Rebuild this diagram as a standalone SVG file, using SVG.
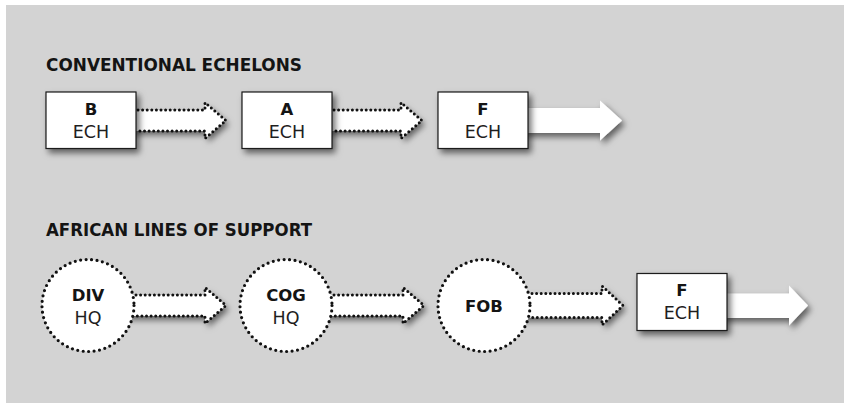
<svg xmlns="http://www.w3.org/2000/svg" width="844" height="403" viewBox="0 0 844 403">
<defs>
<filter id="sh" x="-20%" y="-20%" width="150%" height="160%">
<feDropShadow dx="3" dy="4" stdDeviation="3" flood-color="#000" flood-opacity="0.55"/>
</filter>
<style>
.title{font-family:"DejaVu Sans","Liberation Sans",sans-serif;font-weight:700;font-size:17.5px;fill:#141414}
.b{font-family:"DejaVu Sans","Liberation Sans",sans-serif;font-weight:700;font-size:16.5px;fill:#141414;text-anchor:middle}
.r{font-family:"DejaVu Sans","Liberation Sans",sans-serif;font-weight:400;font-size:17.5px;fill:#1e1e1e;text-anchor:middle}
.box{fill:#fff;stroke:#1a1a1a;stroke-width:1.2;filter:url(#sh)}
.circ{fill:#fff;stroke:#111;stroke-width:3.2;stroke-dasharray:0 5.5;stroke-linecap:round}
.arr{fill:#fff;filter:url(#sh)}
.dot{fill:none;stroke:#111;stroke-width:3;stroke-dasharray:0 4.6;stroke-linecap:round;stroke-linejoin:round}
</style>
</defs>
<rect x="6" y="5" width="838" height="398" fill="#d3d3d3"/>
<text class="title" x="46" y="70.5" textLength="256" lengthAdjust="spacingAndGlyphs">CONVENTIONAL ECHELONS</text>
<text class="title" x="46" y="235.5" textLength="266" lengthAdjust="spacingAndGlyphs">AFRICAN LINES OF SUPPORT</text>
<g id="connectors">
<path class="arr" d="M130 110 H205 V102.5 L226 120.5 L205 138.5 V131 H130 Z"/>
<path class="dot" d="M138 110 H205 V102.5 L226 120.5 L205 138.5 V131 H138"/>
<path class="arr" d="M326 110 H401 V102.5 L422 120.5 L401 138.5 V131 H326 Z"/>
<path class="dot" d="M334 110 H401 V102.5 L422 120.5 L401 138.5 V131 H334"/>
<path class="arr" d="M522 108 H600 V100.5 L622 120.5 L600 140.5 V133 H522 Z"/>
<path class="arr" d="M120 295 H205 V287.5 L226 305.5 L205 323.5 V316 H120 Z"/>
<path class="dot" d="M136 295 H205 V287.5 L226 305.5 L205 323.5 V316 H136"/>
<path class="arr" d="M318 295 H403 V287.5 L424 305.5 L403 323.5 V316 H318 Z"/>
<path class="dot" d="M334 295 H403 V287.5 L424 305.5 L403 323.5 V316 H334"/>
<path class="arr" d="M516 293.5 H602 V286 L623 305.5 L602 325 V317.5 H516 Z"/>
<path class="dot" d="M532 293.5 H602 V286 L623 305.5 L602 325 V317.5 H532"/>
<path class="arr" d="M721 293.5 H789 V285.5 L808 305.5 L789 325.5 V318 H721 Z"/>
</g>
<g id="node-b-ech">
<rect class="box" x="46" y="92" width="90" height="56.5"/>
<text class="b" x="91" y="115">B</text>
<text class="r" x="91" y="138">ECH</text>
</g>
<g id="node-a-ech">
<rect class="box" x="242" y="92" width="90" height="56.5"/>
<text class="b" x="287" y="115">A</text>
<text class="r" x="287" y="138">ECH</text>
</g>
<g id="node-f-ech-1">
<rect class="box" x="438" y="92" width="90" height="56.5"/>
<text class="b" x="483" y="115">F</text>
<text class="r" x="483" y="138">ECH</text>
</g>
<g id="node-div-hq">
<circle class="circ" cx="88" cy="305.5" r="46"/>
<text class="b" x="88" y="301">DIV</text>
<text class="r" x="88" y="324">HQ</text>
</g>
<g id="node-cog-hq">
<circle class="circ" cx="286" cy="305.5" r="46"/>
<text class="b" x="286" y="301">COG</text>
<text class="r" x="286" y="324">HQ</text>
</g>
<g id="node-fob">
<circle class="circ" cx="484" cy="305.5" r="46"/>
<text class="b" x="484" y="312">FOB</text>
</g>
<g id="node-f-ech-2">
<rect class="box" x="637" y="273.5" width="90" height="57"/>
<text class="b" x="682" y="296">F</text>
<text class="r" x="682" y="319">ECH</text>
</g>
</svg>
